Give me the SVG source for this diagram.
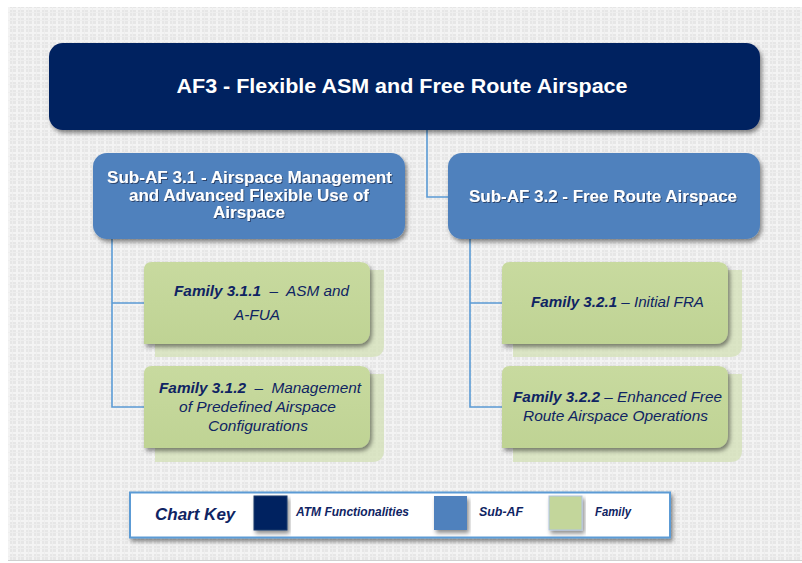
<svg xmlns="http://www.w3.org/2000/svg" width="802" height="563" viewBox="0 0 802 563">
<defs>
<pattern id="bgp" width="8" height="8" patternUnits="userSpaceOnUse">
<rect width="8" height="8" fill="#e6e6e6"/>
<rect x="0" y="0" width="8" height="2" fill="#f3f3f3"/>
<rect x="0" y="0" width="2" height="8" fill="#f3f3f3"/>
<rect x="4" y="0" width="1" height="8" fill="#eeeeee"/>
<rect x="0" y="4" width="8" height="1" fill="#eeeeee"/>
</pattern>
<filter id="sh" x="-10%" y="-10%" width="120%" height="130%">
<feDropShadow dx="2" dy="3" stdDeviation="2" flood-color="#000" flood-opacity="0.45"/>
</filter>
<filter id="tsh" x="-5%" y="-20%" width="110%" height="140%">
<feDropShadow dx="1" dy="1" stdDeviation="0.6" flood-color="#1a2a4a" flood-opacity="0.7"/>
</filter>
<linearGradient id="gg" x1="0" y1="0" x2="0" y2="1">
<stop offset="0" stop-color="#c8da9f"/>
<stop offset="1" stop-color="#bfd394"/>
</linearGradient>
</defs>
<style>
.main{fill:#002060;filter:url(#sh)}
.sub{fill:#4f81bd;filter:url(#sh)}
.fam{fill:url(#gg);filter:url(#sh)}
.famb{fill:#d3e0b6;opacity:0.75}
.t1{font-family:"Liberation Sans",Arial,sans-serif;font-weight:bold;fill:#fff;text-anchor:middle}
.t2{font-family:"Liberation Sans",Arial,sans-serif;font-weight:bold;fill:#fff;text-anchor:middle;font-size:16.5px;filter:url(#tsh)}
.tf{font-family:"Liberation Sans",Arial,sans-serif;font-style:italic;fill:#0f2463;text-anchor:middle;font-size:15px}
.b{font-weight:bold}
.con{fill:none;stroke:#5b9bd5;stroke-width:1.6}
.key{font-family:"Liberation Sans",Arial,sans-serif;font-style:italic;font-weight:bold;fill:#0f2463}
</style>
<rect x="0" y="0" width="802" height="563" fill="#ffffff"/>
<rect x="8" y="7" width="794" height="553" fill="url(#bgp)"/>
<line x1="8" y1="560.5" x2="802" y2="560.5" stroke="#d0d0d0" stroke-width="1"/>

<g id="connectors">
<path class="con" d="M427 130 V197 H448"/>
<path class="con" d="M112 238 V407 H144 M112 303 H144"/>
<path class="con" d="M470 238 V407 H502 M470 303 H502"/>
</g>

<g id="af3">
<rect class="main" x="49" y="43" width="711" height="87" rx="14"/>
<text class="t1" x="402" y="93" font-size="20" textLength="451" lengthAdjust="spacingAndGlyphs">AF3 - Flexible ASM and Free Route Airspace</text>
</g>

<g id="subaf31">
<rect class="sub" x="93" y="153" width="312" height="86" rx="14"/>
<text class="t2" x="249.5" y="183" textLength="285" lengthAdjust="spacingAndGlyphs">Sub-AF 3.1 - Airspace Management</text>
<text class="t2" x="249" y="200.5" textLength="240" lengthAdjust="spacingAndGlyphs">and Advanced Flexible Use of</text>
<text class="t2" x="249" y="218" textLength="72" lengthAdjust="spacingAndGlyphs">Airspace</text>
</g>

<g id="subaf32">
<rect class="sub" x="448" y="153" width="312" height="86" rx="14"/>
<text class="t2" x="603" y="202" textLength="268" lengthAdjust="spacingAndGlyphs">Sub-AF 3.2 - Free Route Airspace</text>
</g>

<g id="fam311">
<path class="famb" d="M155 270 H384 V345 Q384 357 372 357 H155 Z"/>
<path class="fam" d="M144 270 Q144 262 152 262 H360 Q370 262 370 272 V330 Q370 344 356 344 H144 Z"/>
<text class="tf" x="261.5" y="296" xml:space="preserve" textLength="175" lengthAdjust="spacingAndGlyphs"><tspan class="b">Family 3.1.1</tspan>  –  ASM and</text>
<text class="tf" x="257" y="320" textLength="46" lengthAdjust="spacingAndGlyphs">A-FUA</text>
</g>

<g id="fam312">
<path class="famb" d="M155 374 H384 V450 Q384 462 372 462 H155 Z"/>
<path class="fam" d="M144 374 Q144 366 152 366 H360 Q370 366 370 376 V434 Q370 448 356 448 H144 Z"/>
<text class="tf" x="260" y="393" xml:space="preserve" textLength="202" lengthAdjust="spacingAndGlyphs"><tspan class="b">Family 3.1.2</tspan>  –  Management</text>
<text class="tf" x="257.5" y="412" textLength="157" lengthAdjust="spacingAndGlyphs">of Predefined Airspace</text>
<text class="tf" x="258" y="430.5" textLength="100" lengthAdjust="spacingAndGlyphs">Configurations</text>
</g>

<g id="fam321">
<path class="famb" d="M513 270 H742 V345 Q742 357 730 357 H513 Z"/>
<path class="fam" d="M502 270 Q502 262 510 262 H718 Q728 262 728 272 V330 Q728 344 714 344 H502 Z"/>
<text class="tf" x="617.5" y="307" textLength="173" lengthAdjust="spacingAndGlyphs"><tspan class="b">Family 3.2.1</tspan> – Initial FRA</text>
</g>

<g id="fam322">
<path class="famb" d="M513 374 H742 V450 Q742 462 730 462 H513 Z"/>
<path class="fam" d="M502 374 Q502 366 510 366 H718 Q728 366 728 376 V434 Q728 448 714 448 H502 Z"/>
<text class="tf" x="617.5" y="402" textLength="209" lengthAdjust="spacingAndGlyphs"><tspan class="b">Family 3.2.2</tspan> – Enhanced Free</text>
<text class="tf" x="615.5" y="420.5" textLength="185" lengthAdjust="spacingAndGlyphs">Route Airspace Operations</text>
</g>

<g id="chartkey">
<rect x="130" y="492.5" width="540" height="45" fill="#ffffff" stroke="#5b9bd5" stroke-width="2" filter="url(#sh)"/>
<text class="key" x="155" y="520" font-size="17">Chart Key</text>
<rect x="254" y="496" width="33" height="34" fill="#002060" stroke="#1a3a6a" stroke-width="1" filter="url(#sh)"/>
<text class="key" x="296" y="516" font-size="12" textLength="113" lengthAdjust="spacingAndGlyphs">ATM Functionalities</text>
<rect x="434" y="496" width="33" height="34" fill="#4f81bd" filter="url(#sh)"/>
<text class="key" x="479" y="516" font-size="12" textLength="44" lengthAdjust="spacingAndGlyphs">Sub-AF</text>
<rect x="549" y="496" width="33" height="34" fill="#c3d69b" stroke="#b0c4e0" stroke-width="1" filter="url(#sh)"/>
<text class="key" x="595" y="516" font-size="12" textLength="36" lengthAdjust="spacingAndGlyphs">Family</text>
</g>
</svg>
